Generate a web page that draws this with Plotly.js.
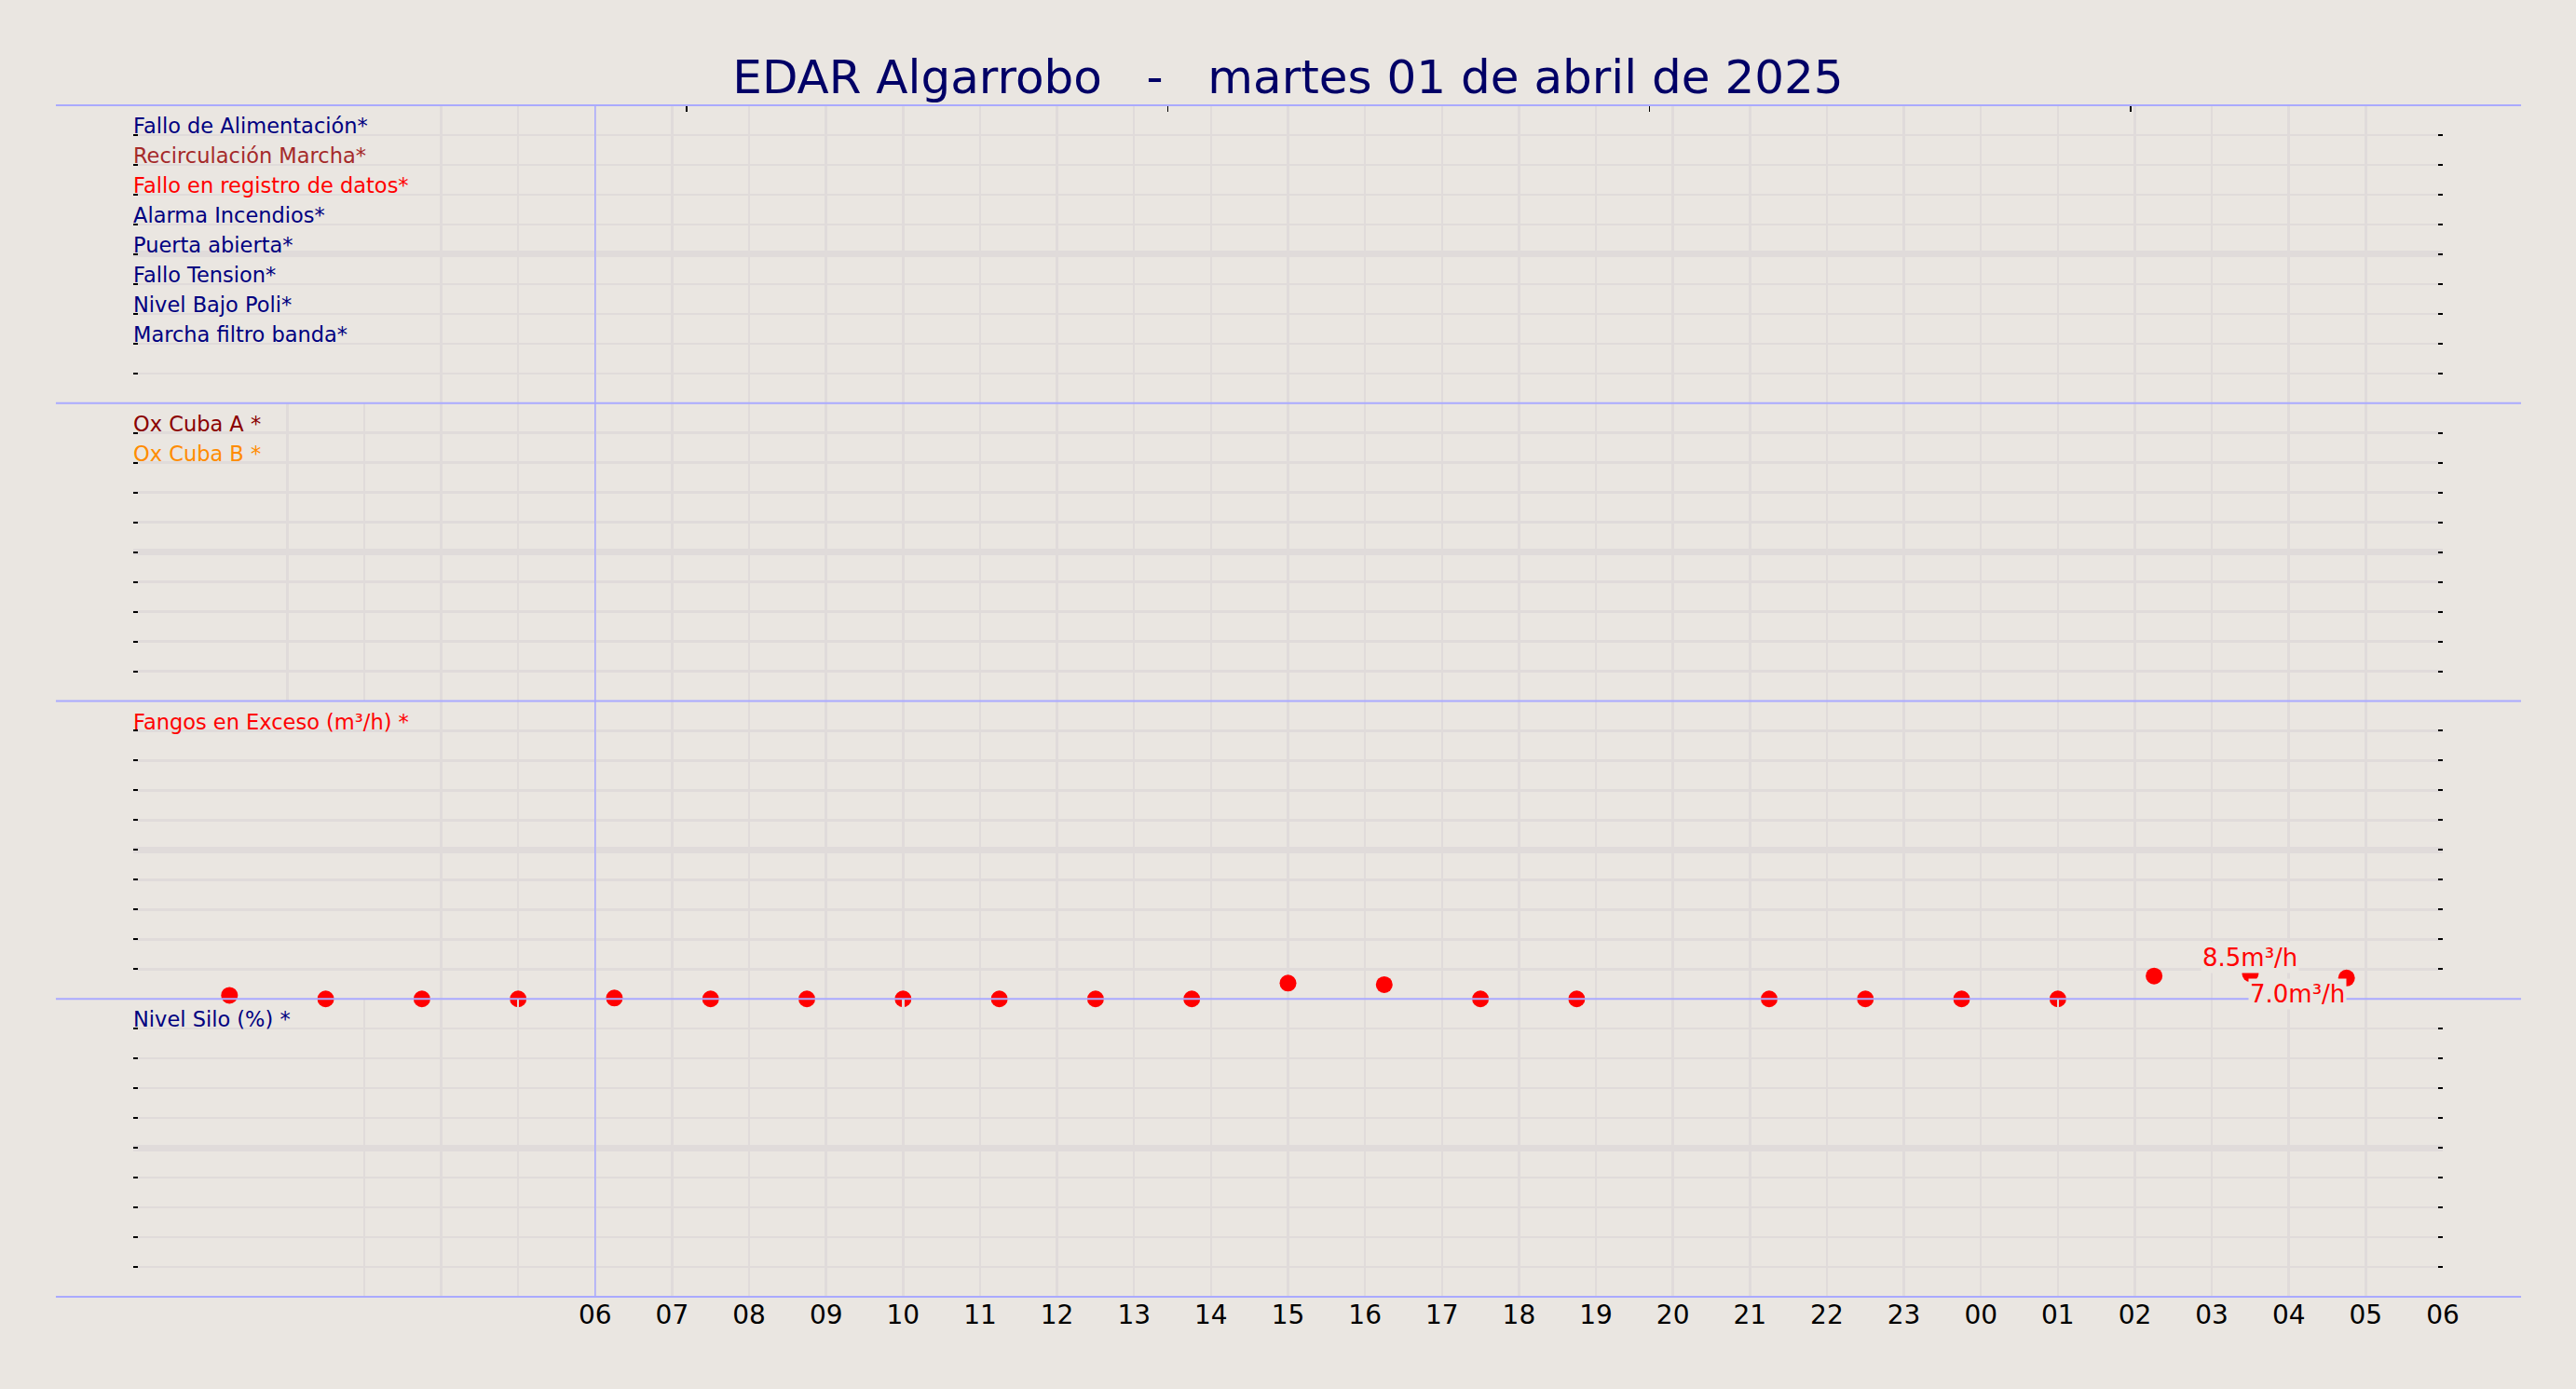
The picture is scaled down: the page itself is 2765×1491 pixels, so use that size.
<!DOCTYPE html>
<html>
<head>
<meta charset="utf-8">
<script src="https://cdn.plot.ly/plotly-3.0.1.min.js"></script>
<style>
  html, body { margin: 0; padding: 0; background: #eae6e1; }
</style>
</head>
<body>
<div id="chart" style="width:2765px;height:1491px;"></div>
<script>
// Fangos en Exceso (m3/h), one reading every 75 min
const times = [
  "2025-04-01 01:15", "2025-04-01 02:30", "2025-04-01 03:45", "2025-04-01 05:00",
  "2025-04-01 06:15", "2025-04-01 07:30", "2025-04-01 08:45", "2025-04-01 10:00",
  "2025-04-01 11:15", "2025-04-01 12:30", "2025-04-01 13:45", "2025-04-01 15:00",
  "2025-04-01 16:15", "2025-04-01 17:30", "2025-04-01 18:45", "2025-04-01 20:00",
  "2025-04-01 21:15", "2025-04-01 22:30", "2025-04-01 23:45", "2025-04-02 01:00",
  "2025-04-02 02:15", "2025-04-02 03:30", "2025-04-02 04:45"
];
const fangos = [1.2, 0, 0, 0, 0.3, 0, 0, 0, 0, 0, 0, 5.3, 4.8, 0, 0, null, 0, 0, 0, 0, 7.7, 8.5, 7.0];

// hour ticks along the bottom
const hourTicks = [
  "2025-04-01 00:00", "2025-04-01 01:00", "2025-04-01 02:00", "2025-04-01 03:00",
  "2025-04-01 04:00", "2025-04-01 05:00", "2025-04-01 06:00", "2025-04-01 07:00",
  "2025-04-01 08:00", "2025-04-01 09:00", "2025-04-01 10:00", "2025-04-01 11:00",
  "2025-04-01 12:00", "2025-04-01 13:00", "2025-04-01 14:00", "2025-04-01 15:00",
  "2025-04-01 16:00", "2025-04-01 17:00", "2025-04-01 18:00", "2025-04-01 19:00",
  "2025-04-01 20:00", "2025-04-01 21:00", "2025-04-01 22:00", "2025-04-01 23:00",
  "2025-04-02 00:00", "2025-04-02 01:00", "2025-04-02 02:00", "2025-04-02 03:00",
  "2025-04-02 04:00", "2025-04-02 05:00", "2025-04-02 06:00"
];
const hourLabels = [
  "", "", "", "", "", "", "06", "07", "08", "09", "10", "11", "12", "13", "14", "15",
  "16", "17", "18", "19", "20", "21", "22", "23", "00", "01", "02", "03", "04", "05", "06"
];

// signal names shown in each panel (top to bottom)
const panel1Names = ["Fallo de Alimentación*", "Recirculación Marcha*", "Fallo en registro de datos*",
  "Alarma Incendios*", "Puerta abierta*", "Fallo Tension*", "Nivel Bajo Poli*", "Marcha filtro banda*"];
const panel1Colors = ["#000080", "#a52a2a", "#ff0000", "#000080", "#000080", "#000080", "#000080", "#000080"];
const panel2Names = ["Ox Cuba A *", "Ox Cuba B *"];
const panel2Colors = ["#8b0000", "#ff8c00"];
const panel3Names = ["Fangos en Exceso (m³/h) *"];
const panel3Colors = ["#ff0000"];
const panel4Names = ["Nivel Silo (%) *"];
const panel4Colors = ["#000080"];

const bg = "#eae6e1";
const grid = "#e0dbda";
const lav = "#aaaaff";
const font = "DejaVu Sans";

// builds the 11 tick labels of a panel, names from the top tick downwards
function panelTicks(names, colors, top) {
  var vals = [], txt = [];
  for (var i = 0; i <= 10; i++) {
    vals.push(i * top / 10);
    txt.push("");
  }
  for (var j = 0; j < names.length; j++) {
    txt[9 - j] = '<span style="color:' + colors[j] + '">' + names[j] + '</span>';
  }
  return { tickvals: vals, ticktext: txt };
}

function leftAxis(domain, anchor, names, colors, top) {
  var t = panelTicks(names, colors, top);
  return {
    domain: domain, anchor: anchor, range: [0, top], fixedrange: true,
    tickvals: t.tickvals, ticktext: t.ticktext,
    ticks: "inside", ticklen: 5, tickwidth: 2, tickcolor: "#000",
    ticklabelposition: "inside top", ticklabelshift: 7, ticklabelstandoff: -3,
    tickfont: { size: 22.5, family: font, color: "#000080" },
    showgrid: true, gridcolor: grid, gridwidth: 2.5, zeroline: false, showline: false
  };
}

function rightAxis(over, anchor) {
  return {
    overlaying: over, side: "right", anchor: anchor, range: [-5, 5], dtick: 1,
    ticks: "inside", ticklen: 5, tickwidth: 2, tickcolor: "#000", showticklabels: false,
    showgrid: true, gridcolor: grid, gridwidth: 2.5,
    zeroline: true, zerolinecolor: grid, zerolinewidth: 7, showline: false
  };
}

function xAxis(anchor, labels) {
  return {
    type: "date", anchor: anchor, matches: anchor === "y4" ? undefined : "x4",
    range: ["2025-04-01 00:00", "2025-04-02 06:00"],
    tickvals: hourTicks, ticktext: hourLabels, showticklabels: labels,
    ticks: "", tickfont: { size: 28, family: font, color: "#000" },
    showgrid: true, gridcolor: grid, gridwidth: 2.5, zeroline: false, showline: false
  };
}

const traces = [
  { x: [], y: [], xaxis: "x", yaxis: "y", type: "scatter", mode: "markers", hoverinfo: "skip" },
  { x: [], y: [], xaxis: "x2", yaxis: "y2", type: "scatter", mode: "markers", hoverinfo: "skip" },
  { x: [], y: [], xaxis: "x4", yaxis: "y4", type: "scatter", mode: "markers", hoverinfo: "skip" },
  { x: [], y: [], xaxis: "x", yaxis: "y5", type: "scatter", mode: "markers", hoverinfo: "skip" },
  { x: [], y: [], xaxis: "x2", yaxis: "y6", type: "scatter", mode: "markers", hoverinfo: "skip" },
  { x: [], y: [], xaxis: "x3", yaxis: "y7", type: "scatter", mode: "markers", hoverinfo: "skip" },
  { x: [], y: [], xaxis: "x4", yaxis: "y8", type: "scatter", mode: "markers", hoverinfo: "skip" },
  { x: [], y: [], xaxis: "x5", yaxis: "y", type: "scatter", mode: "markers", hoverinfo: "skip" },
  {
    name: "Fangos en Exceso", x: times, y: fangos, xaxis: "x3", yaxis: "y3",
    type: "scatter", mode: "markers", cliponaxis: false,
    marker: { color: "#ff0000", size: 18 }
  }
];

// labels for the max value and the last value
var maxI = 0, lastI = fangos.length - 1;
for (var i = 0; i < fangos.length; i++) if (fangos[i] !== null && fangos[i] > fangos[maxI]) maxI = i;

const annotations = [
  {
    x: times[maxI], y: fangos[maxI], xref: "x3", yref: "y3", showarrow: false,
    text: fangos[maxI].toFixed(1) + "m³/h", xanchor: "center", yanchor: "bottom",
    bgcolor: bg, font: { size: 26, family: font, color: "#ff0000" }
  },
  {
    x: times[lastI], y: fangos[lastI], xref: "x3", yref: "y3", showarrow: false,
    text: fangos[lastI].toFixed(1) + "m³/h", xanchor: "right", yanchor: "top",
    bgcolor: bg, font: { size: 26, family: font, color: "#ff0000" }
  }
];

const shapes = [];
[0, 0.25, 0.5, 0.75, 1].forEach(function (yy) {
  shapes.push({
    type: "line", xref: "paper", yref: "paper", x0: -0.0335, x1: 1.0339, y0: yy, y1: yy,
    line: { color: lav, width: 2 }, layer: "above"
  });
});
shapes.push({
  type: "line", xref: "x4", yref: "paper", x0: "2025-04-01 06:00", x1: "2025-04-01 06:00", y0: 0, y1: 1,
  line: { color: lav, width: 1.5 }, layer: "above"
});

const layout = {
  width: 2765, height: 1491,
  paper_bgcolor: bg, plot_bgcolor: bg,
  margin: { l: 143, r: 143, t: 113, b: 99 },
  font: { family: font },
  showlegend: false,
  title: {
    text: "EDAR Algarrobo &nbsp; - &nbsp; martes 01 de abril de 2025",
    x: 0.5, xanchor: "center", y: 0.945, yanchor: "middle",
    font: { size: 50, family: font, color: "#000066" }
  },
  xaxis: xAxis("y", false),
  xaxis2: xAxis("y2", false),
  xaxis3: xAxis("y3", false),
  xaxis4: xAxis("y4", true),
  xaxis5: {
    overlaying: "x", side: "top", anchor: "y", range: [-0.149, 4.648], dtick: 1, tick0: 0,
    ticks: "inside", ticklen: 7, tickwidth: 1.5, tickcolor: "#000",
    showticklabels: false, showgrid: false, zeroline: false, showline: false
  },
  yaxis: leftAxis([0.75, 1], "x", panel1Names, panel1Colors, 10),
  yaxis2: leftAxis([0.5, 0.75], "x2", panel2Names, panel2Colors, 10),
  yaxis3: leftAxis([0.25, 0.5], "x3", panel3Names, panel3Colors, 100),
  yaxis4: leftAxis([0, 0.25], "x4", panel4Names, panel4Colors, 100),
  yaxis5: rightAxis("y", "x"),
  yaxis6: rightAxis("y2", "x2"),
  yaxis7: rightAxis("y3", "x3"),
  yaxis8: rightAxis("y4", "x4"),
  annotations: annotations,
  shapes: shapes
};

Plotly.newPlot("chart", traces, layout, { displayModeBar: false, staticPlot: true });
</script>
</body>
</html>
